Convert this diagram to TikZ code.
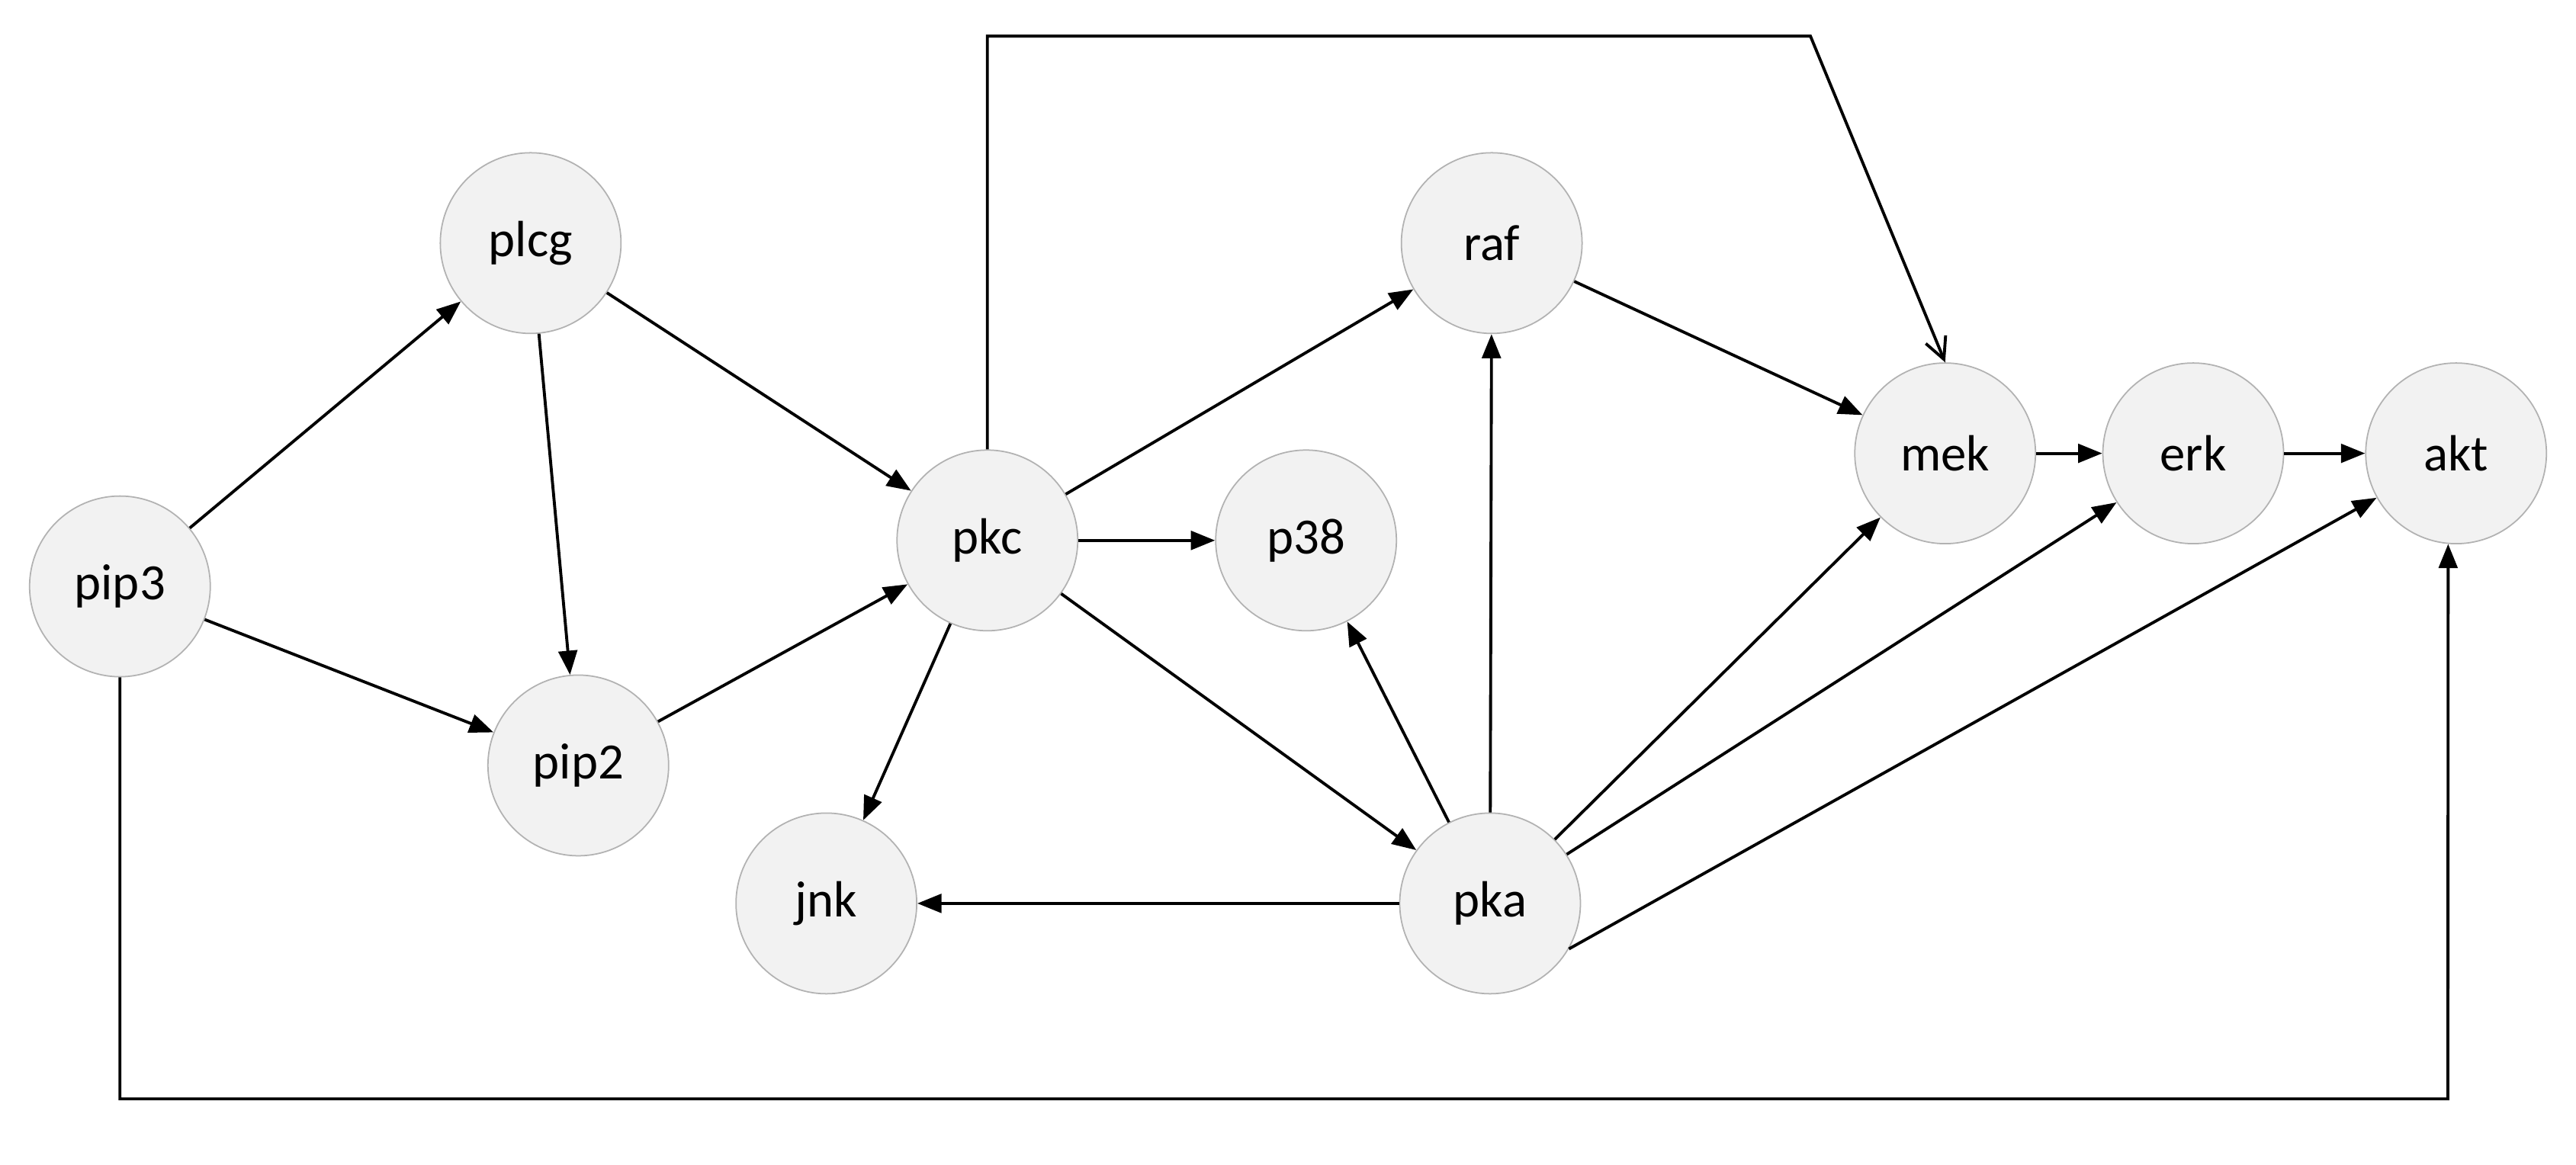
\documentclass[tikz,border=0pt]{standalone}
\usepackage{fontspec}
\setmainfont{Carlito}
\usetikzlibrary{arrows.meta}
\begin{document}
\begin{tikzpicture}[x=0.021543cm,y=-0.021543cm,
  nd/.style={circle,draw=black!30,line width=0.5pt,fill=black!5,minimum size=2.37cm,inner sep=0pt,font=\fontsize{19}{22}\selectfont},
  ar/.style={line width=1.1pt,-{Triangle[length=9pt,width=7pt]}},
  oa/.style={line width=1.1pt,-{Straight Barb[length=8pt,width=8pt]}}]
\useasboundingbox (0,0) rectangle (1568,709);
\node[nd] (pip3) at (73,357) {pip3};
\node[nd] (plcg) at (323,148) {plcg};
\node[nd] (pip2) at (352,466) {pip2};
\node[nd] (pkc) at (601,329) {pkc};
\node[nd] (raf) at (908,148) {raf};
\node[nd] (p38) at (795,329) {p38};
\node[nd] (jnk) at (503,550) {jnk};
\node[nd] (pka) at (907,550) {pka};
\node[nd] (mek) at (1184,276) {mek};
\node[nd] (erk) at (1335,276) {erk};
\node[nd] (akt) at (1495,276) {akt};
\coordinate (c1) at (601,22);
\coordinate (c2) at (1102,22);
\coordinate (c3) at (73,669);
\coordinate (c4) at (1490,669);
\draw[ar] (pip3) -- (plcg);
\draw[ar] (pip3) -- (pip2);
\draw[ar] (plcg) -- (pip2);
\draw[ar] (plcg) -- (pkc);
\draw[ar] (pip2) -- (pkc);
\draw[ar] (pkc) -- (raf);
\draw[ar] (pkc) -- (p38);
\draw[ar] (pkc) -- (jnk);
\draw[ar] (pkc) -- (pka);
\draw[ar] (pka) -- (jnk);
\draw[ar] (pka) -- (p38);
\draw[ar] (pka) -- (raf);
\draw[ar] (pka) -- (mek);
\draw[ar] (pka) -- (erk);
\draw[ar] (pka.-30) -- (akt);
\draw[ar] (raf) -- (mek);
\draw[ar] (mek) -- (erk);
\draw[ar] (erk) -- (akt);
\draw[oa] (pkc.north) -- (c1) -- (c2) -- (mek.north);
\draw[ar] (pip3.south) -- (c3) -- (c4) -- (akt.-95);
\end{tikzpicture}
\end{document}
